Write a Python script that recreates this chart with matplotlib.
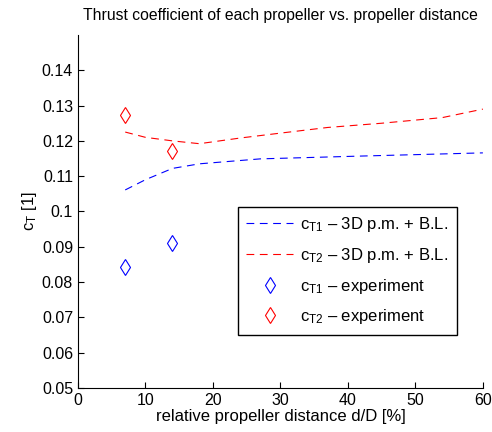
import numpy as np
import matplotlib.pyplot as plt

plt.rcParams['font.family'] = ['Liberation Sans', 'DejaVu Sans']
plt.rcParams['mathtext.fontset'] = 'custom'
plt.rcParams['mathtext.rm'] = 'Liberation Sans'
plt.rcParams['mathtext.it'] = 'Liberation Sans'

# panel method + boundary layer results
d_t1 = [7, 10, 14, 18, 27, 42, 60]
ct1_pm = [0.1061, 0.1090, 0.1122, 0.1135, 0.1149, 0.1157, 0.1166]
d_t2 = [7, 10, 14, 18, 24, 30, 37, 45, 54, 60]
ct2_pm = [0.1225, 0.1210, 0.1200, 0.1192, 0.1208, 0.1222, 0.1238, 0.1250, 0.1266, 0.1290]

# measurements
d_exp = [7, 14]
ct1_exp = [0.0843, 0.0911]
ct2_exp = [0.1273, 0.1171]

fig = plt.figure(figsize=(4.92, 4.32), dpi=100)
ax = fig.add_axes([0.1585, 0.102, 0.823, 0.817])

dash = (0, (7, 5))
ax.plot(d_t1, ct1_pm, color='b', lw=0.8, linestyle=dash,
        label=r'c$_{\mathregular{T1}}$ – 3D p.m. + B.L.')
ax.plot(d_t2, ct2_pm, color='r', lw=0.8, linestyle=dash,
        label=r'c$_{\mathregular{T2}}$ – 3D p.m. + B.L.')
ax.plot(d_exp, ct1_exp, 'bd', mfc='none', ms=8.5, mew=0.8, linestyle='none',
        label=r'c$_{\mathregular{T1}}$ – experiment')
ax.plot(d_exp, ct2_exp, 'rd', mfc='none', ms=8.5, mew=0.8, linestyle='none',
        label=r'c$_{\mathregular{T2}}$ – experiment')

ax.set_xlim(0, 60)
ax.set_ylim(0.05, 0.15)
ax.set_xticks(np.arange(0, 61, 10))
ax.set_yticks([0.05, 0.06, 0.07, 0.08, 0.09, 0.1, 0.11, 0.12, 0.13, 0.14])
ax.set_yticklabels(['0.05', '0.06', '0.07', '0.08', '0.09', '0.1', '0.11', '0.12', '0.13', '0.14'])
ax.spines['top'].set_visible(False)
ax.spines['right'].set_visible(False)
for s in ('left', 'bottom'):
    ax.spines[s].set_linewidth(0.8)
ax.tick_params(direction='in', length=4, width=0.8, labelsize=11.5)

ax.set_xlabel('relative propeller distance d/D [%]', fontsize=12, labelpad=1)
ax.set_ylabel(r'c$_{\mathregular{T}}$ [1]', fontsize=12, labelpad=2)
ax.set_title('Thrust coefficient of each propeller vs. propeller distance', fontsize=11.3, pad=11)

leg = ax.legend(loc='upper left', bbox_to_anchor=(0.395, 0.513), borderaxespad=0,
                fontsize=12, handlelength=2.8, handletextpad=0.45, fancybox=False,
                framealpha=1, edgecolor='k', borderpad=0.5, labelspacing=0.7)
leg.get_frame().set_linewidth(1.0)

fig.savefig('out.png', dpi=100)
